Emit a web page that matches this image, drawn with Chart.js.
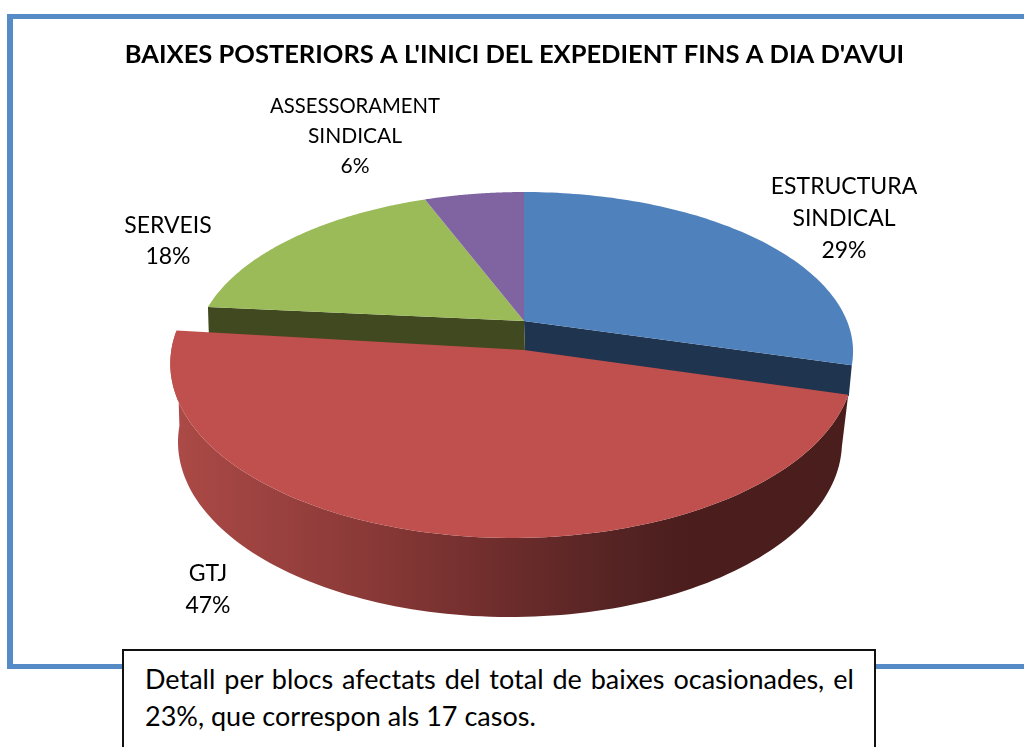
<!DOCTYPE html>
<html><head><meta charset="utf-8">
<style>
html,body{margin:0;padding:0;background:#fff;overflow:hidden}
#wrap{position:relative;width:1024px;height:747px;overflow:hidden}
#frame{position:absolute;left:7px;top:14px;width:1100px;height:645px;border:solid #558bc6;border-width:5px 6px;box-sizing:content-box}
canvas{position:absolute;left:0;top:0}
#note{position:absolute;left:122px;top:649px;width:750px;height:120px;border:2px solid #111;background:#fff;font:27px/36px Lato,sans-serif;color:#000;box-sizing:content-box}
#note div{position:absolute;left:21px;white-space:nowrap}
</style></head><body>
<div id="wrap">
<div id="frame"></div>
<canvas id="c" width="1024" height="747"></canvas>
<div id="note"><div style="top:10px;word-spacing:2px">Detall per blocs afectats del total de baixes ocasionades, el</div><div style="top:47px">23%, que correspon als 17 casos.</div></div>
</div>
<script src="https://cdn.jsdelivr.net/npm/chart.js@4"></script>
<script>
const chartTitle = "BAIXES POSTERIORS A L'INICI DEL EXPEDIENT FINS A DIA D'AVUI";
const categories = ["ESTRUCTURA SINDICAL", "GTJ", "SERVEIS", "ASSESSORAMENT SINDICAL"];
const labelLines = [["ESTRUCTURA", "SINDICAL"], ["GTJ"], ["SERVEIS"], ["ASSESSORAMENT", "SINDICAL"]];
const cases = [5, 8, 3, 1];
const sliceColors = ["#4f81bd", "#c0504d", "#9bbb59", "#8064a2"];
const sideColors = ["#1f344f", "#4a1c1c", "#40491f", "#33284a"];
const explode = [0, 42, 0, 0];

// Placement of the tilted pie on the page
const BACK = {cx:524, cy:321, a:323, k:153.6, h:-0.191, depth:31};
const RIM = {cx:512, cy:346.3, a:340, k:172.5, h:-0.1, apex:[524,350]};
const FRONT = {bx:510, by:442, rx:332, ry:175};
const LABELS = [
  {x:844, y:187, lh:32, size:23},
  {x:208, y:574, lh:32, size:23},
  {x:168, y:226, lh:31, size:23},
  {x:355, y:106, lh:30, size:21, fit:170}
];

function project(M, u, v){
  const d = 1 + M.h*v;
  return [M.cx + M.a*u/d, M.cy + M.k*v/d];
}
function angles(arc, from, to, n){
  const out = [];
  for(let i=0;i<=n;i++) out.push(from+(to-from)*i/n);
  return out;
}
function poly(ctx, list, fill){
  ctx.beginPath();
  list.forEach((p,i)=> i?ctx.lineTo(p[0],p[1]):ctx.moveTo(p[0],p[1]));
  ctx.closePath();
  ctx.fillStyle = fill; ctx.fill();
}
const pie3d = {
  id:'pie3d',
  beforeDatasetDraw(chart, args){
    const ctx = chart.ctx, arcs = chart.getDatasetMeta(args.index).data;
    const down = p => [p[0]-(p[0]>BACK.cx?3:-1), p[1]+BACK.depth];
    const apexB = [BACK.cx, BACK.cy];
    const pt = t => project(BACK, Math.cos(t), Math.sin(t));
    ctx.save();
    // cut faces of the slices next to the pulled-out one
    arcs.forEach((arc,i)=>{
      if(arc.options.offset) return;
      const next = arcs[(i+1)%arcs.length], prev = arcs[(i+arcs.length-1)%arcs.length];
      if(next.options.offset){ const e=pt(arc.endAngle); poly(ctx,[apexB,e,down(e),down(apexB)],sideColors[i]); }
      if(prev.options.offset){ const e=pt(arc.startAngle); poly(ctx,[apexB,e,down(e),down(apexB)],sideColors[i]); }
    });
    // back slices, top faces
    arcs.forEach(arc=>{
      if(arc.options.offset) return;
      poly(ctx,[apexB,...angles(arc,arc.startAngle,arc.endAngle,90).map(pt)],arc.options.backgroundColor);
    });
    // pulled-out front slice: wall, then top face
    arcs.forEach(arc=>{
      if(!arc.options.offset) return;
      const rim = angles(arc,arc.startAngle,arc.endAngle,120).map(t=>project(RIM,Math.cos(t),Math.sin(t)));
      const bottom = angles(arc,arc.startAngle-0.25,arc.endAngle,120).map(t=>[FRONT.bx+FRONT.rx*Math.cos(t), FRONT.by+FRONT.ry*Math.sin(t)]);
      const g = ctx.createLinearGradient(172,0,848,0);
      g.addColorStop(0,"#ac4a47");
      g.addColorStop(0.278,"#8b3a38");
      g.addColorStop(0.485,"#6e2d2c");
      g.addColorStop(0.66,"#552323");
      g.addColorStop(0.766,"#4b1d1d");
      g.addColorStop(1,"#4b1e1e");
      poly(ctx,[...rim,...bottom.slice().reverse()],g);
      poly(ctx,[RIM.apex,...rim],arc.options.backgroundColor);
    });
    ctx.restore();
    return false;
  },
  afterDatasetsDraw(chart){
    const ctx = chart.ctx;
    const total = cases.reduce((a,b)=>a+b,0);
    ctx.save();
    ctx.fillStyle = "#000";
    ctx.textAlign = "center"; ctx.textBaseline = "middle";
    cases.forEach((s,i)=>{
      const L = LABELS[i];
      ctx.font = L.size+"px Lato, sans-serif";
      const lines = [...labelLines[i], Math.round(s/total*100)+"%"];
      lines.forEach((t,j)=>{
        if(L.fit) ctx.fillText(t,L.x,L.y+j*L.lh,L.fit);
        else ctx.fillText(t,L.x,L.y+j*L.lh);
      });
    });
    ctx.restore();
  }
};
new Chart(document.getElementById('c'),{
  type:'pie',
  data:{labels:categories,datasets:[{data:cases,backgroundColor:sliceColors,borderWidth:0,offset:explode}]},
  plugins:[pie3d],
  options:{
    responsive:false,animation:false,
    layout:{padding:{left:5}},
    plugins:{
      legend:{display:false},tooltip:{enabled:false},
      title:{display:true,text:chartTitle,color:"#000",font:{family:"Lato, sans-serif",size:25.5,weight:"bold"},padding:{top:39,bottom:10}}
    }
  }
});
</script>
</body></html>
